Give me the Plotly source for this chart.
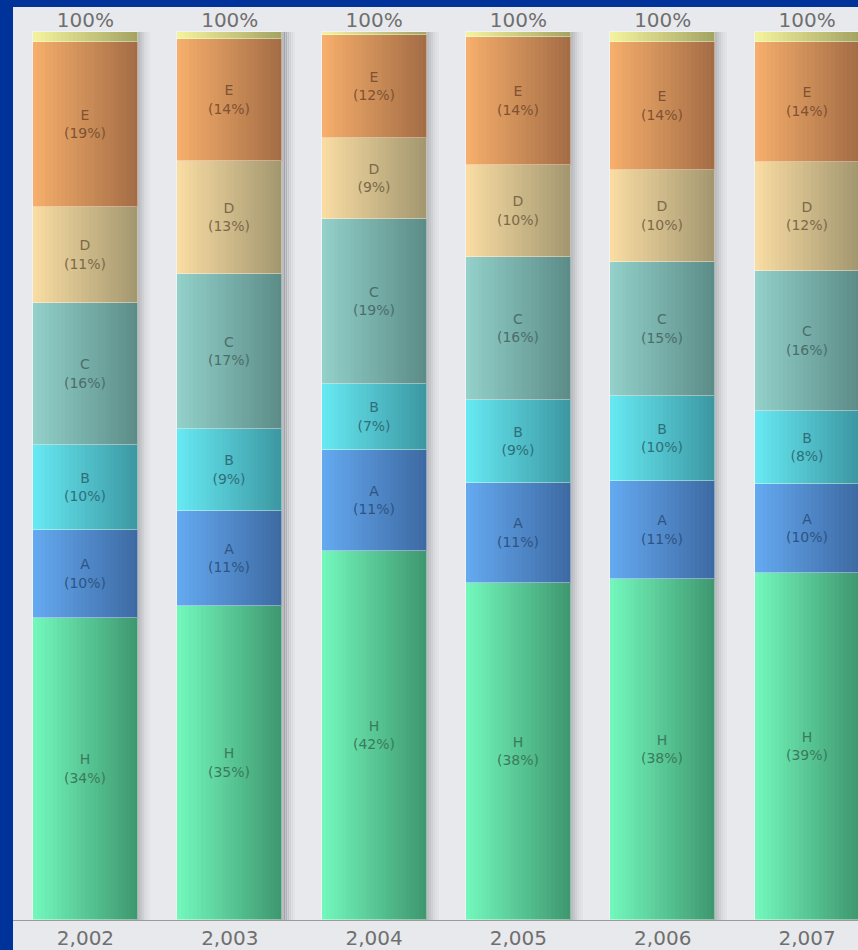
import plotly.graph_objects as go

# Share of each category per year (percent)
years = [2002, 2003, 2004, 2005, 2006, 2007]
H = [34.0, 35.4, 41.6, 37.9, 38.4, 39.1]
A = [9.9, 10.6, 11.3, 11.3, 11.0, 10.0]
B = [9.6, 9.3, 7.4, 9.3, 9.6, 8.2]
C = [16.0, 17.4, 18.6, 16.1, 15.1, 15.8]
D = [10.8, 12.8, 9.2, 10.4, 10.4, 12.2]
E = [18.6, 13.7, 11.6, 14.4, 14.4, 13.6]
Other = [1.1, 0.8, 0.3, 0.6, 1.1, 1.1]

series = [
    ("H", H, "#72f7bb", "#3f9870", "#3a7a5e"),
    ("A", A, "#64a9f0", "#3d6aa3", "#2f5384"),
    ("B", B, "#66e8f2", "#3c98a2", "#2f6f7a"),
    ("C", C, "#92d0c9", "#5c8c88", "#4b6e6a"),
    ("D", D, "#f8dca2", "#a39770", "#7a6a4a"),
    ("E", E, "#f5ae6b", "#a46d45", "#7e5232"),
    ("", Other, "#f3f29c", "#a5a563", "#777744"),
]

BAR_W = 0.728
N_SLICES = 26
PX = 1 / 144.3  # one pixel in x data units


def hex_rgb(h):
    h = h.lstrip("#")
    return [int(h[i:i + 2], 16) for i in (0, 2, 4)]


def mix(c1, c2, t):
    a, b = hex_rgb(c1), hex_rgb(c2)
    return "rgb(%d,%d,%d)" % tuple(round(a[i] + (b[i] - a[i]) * t) for i in range(3))


totals = [sum(s[1][i] for s in series) for i in range(len(years))]

fig = go.Figure()

# soft drop shadow on the right side of every column
for k, alpha in enumerate([0.26, 0.2, 0.14, 0.09, 0.06, 0.03]):
    fig.add_trace(go.Bar(
        x=years, y=totals, base=[0] * len(years),
        width=2.2 * PX, offset=BAR_W / 2 + k * 2 * PX,
        marker=dict(color="rgba(60,60,70,%.2f)" % alpha, line=dict(width=0)),
        hoverinfo="skip", showlegend=False,
    ))

# stacked segments with a horizontal light-to-dark shading
base = [0.0] * len(years)
for name, vals, c_left, c_right, txt_col in series:
    seg_base = list(base)
    for k in range(N_SLICES):
        t = k / (N_SLICES - 1)
        w = BAR_W / N_SLICES
        fig.add_trace(go.Bar(
            x=years, y=vals, base=seg_base,
            width=w * 1.6 if k < N_SLICES - 1 else w,
            offset=-BAR_W / 2 + k * w,
            marker=dict(color=mix(c_left, c_right, t), line=dict(width=0)),
            hoverinfo="skip", showlegend=False,
        ))
    labels = ["%s<br>(%.0f%%)" % (name, v) for v in vals] if name else None
    fig.add_trace(go.Bar(
        x=years, y=vals, base=seg_base, width=BAR_W,
        marker=dict(color="rgba(0,0,0,0)",
                    line=dict(color="rgba(255,255,255,0.4)", width=1)),
        text=labels, textposition="inside" if name else "none",
        insidetextanchor="middle", textangle=0,
        textfont=dict(family="DejaVu Sans", size=14, color=txt_col),
        name=name, hoverinfo="skip", showlegend=False,
    ))
    base = [b + v for b, v in zip(base, vals)]

# total above each column
fig.add_trace(go.Scatter(
    x=years, y=totals, mode="text",
    text=["%.0f%%" % t for t in totals], textposition="top center",
    textfont=dict(family="DejaVu Sans", size=20, color="#6f6f6f"),
    cliponaxis=False, hoverinfo="skip", showlegend=False,
))

fig.update_layout(
    width=858, height=950,
    margin=dict(l=13, r=0, t=7, b=30),
    paper_bgcolor="#003399",
    plot_bgcolor="#e8e9ec",
    barmode="overlay",
    bargap=0,
    shapes=[dict(type="rect", xref="paper", yref="paper",
                 x0=0, x1=1, y0=-0.04, y1=0,
                 fillcolor="#e8e9ec", line=dict(width=0), layer="below")],
)
fig.update_xaxes(
    range=[2001.498, 2007.353], tickvals=years, tickformat=",d",
    tickfont=dict(family="DejaVu Sans", size=20, color="#6f6f6f"),
    showgrid=False, zeroline=False, ticks="",
    showline=True, linecolor="#9a9a9a", linewidth=1,
)
fig.update_yaxes(range=[0, 102.8], visible=False, showgrid=False)

fig.write_html("out.html")
